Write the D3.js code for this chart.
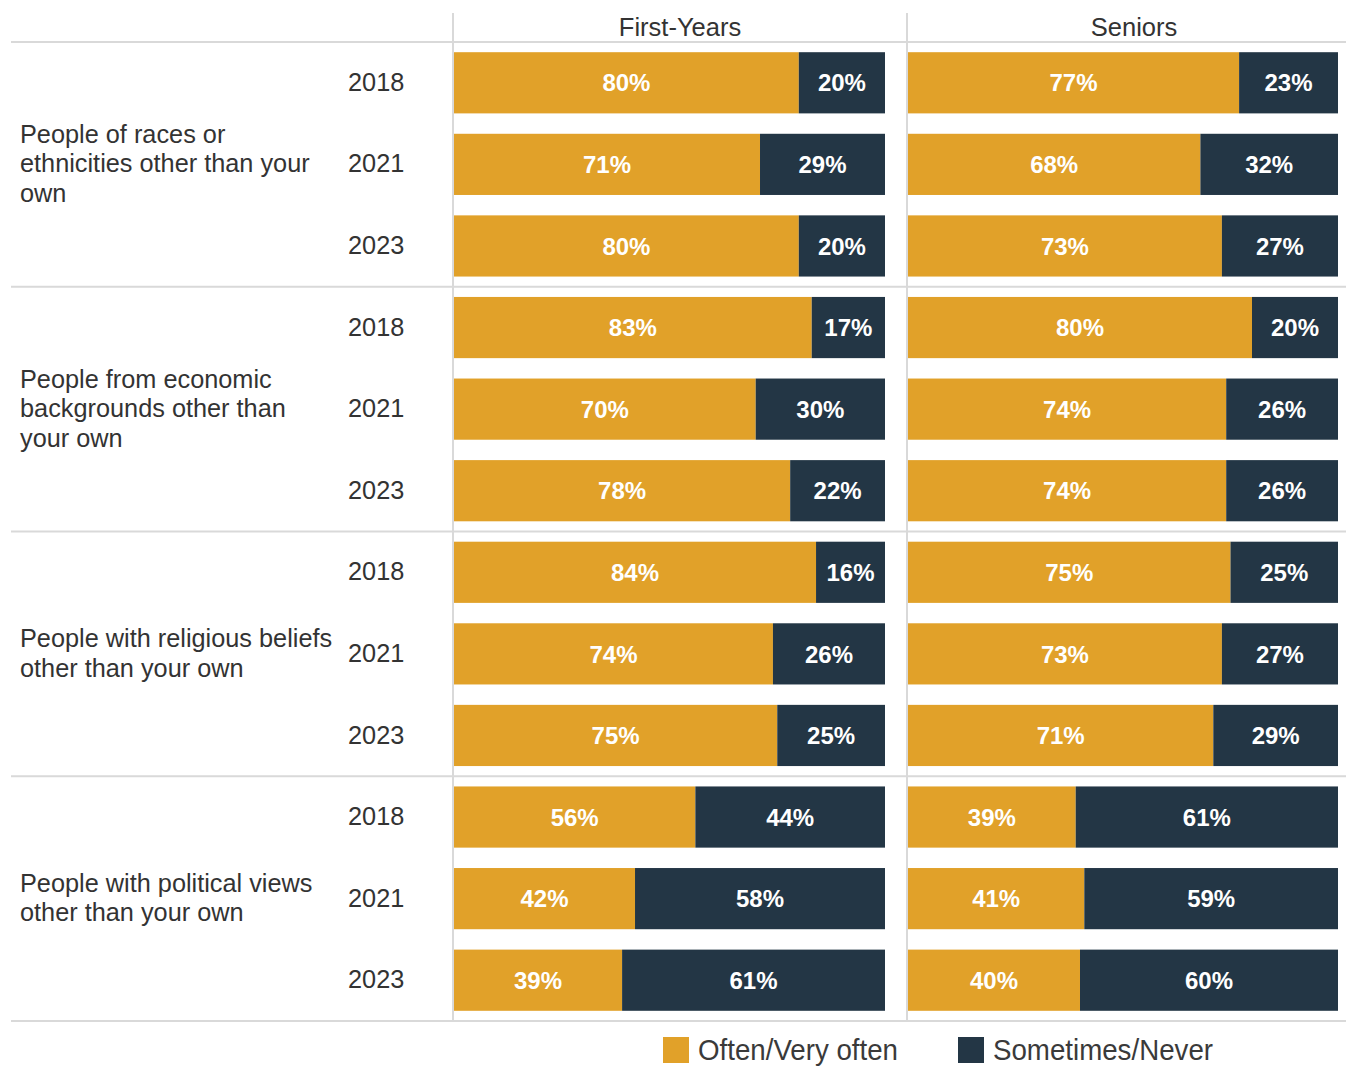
<!DOCTYPE html>
<html>
<head>
<meta charset="utf-8">
<script src="https://cdn.jsdelivr.net/npm/d3@7"></script>
<style>
  html, body { margin: 0; padding: 0; background: #ffffff; }
  svg { display: block; }
  text { font-family: "Liberation Sans", Arial, sans-serif; }
</style>
</head>
<body>
<svg id="chart" width="1346" height="1067"></svg>
<script>
// ---- Data ----
const categories = [
  "People of races or|ethnicities other than your|own",
  "People from economic|backgrounds other than|your own",
  "People with religious beliefs|other than your own",
  "People with political views|other than your own"
];
const years = ["2018", "2021", "2023"];
const panels = ["First-Years", "Seniors"];
const seriesNames = ["Often/Very often", "Sometimes/Never"];

// values per category, in year order
const firstYearsOften     = [[80, 71, 80], [83, 70, 78], [84, 74, 75], [56, 42, 39]];
const firstYearsSometimes = [[20, 29, 20], [17, 30, 22], [16, 26, 25], [44, 58, 61]];
const seniorsOften        = [[77, 68, 73], [80, 74, 74], [75, 73, 71], [39, 41, 40]];
const seniorsSometimes    = [[23, 32, 27], [20, 26, 26], [25, 27, 29], [61, 59, 60]];

const colors = ["#E1A129", "#233645"];

// ---- Build rows ----
const rows = [];
categories.forEach((c, ci) => {
  years.forEach((y, yi) => {
    rows.push({
      key: ci + "-" + y, ci, year: y,
      values: [
        [firstYearsOften[ci][yi], firstYearsSometimes[ci][yi]],
        [seniorsOften[ci][yi], seniorsSometimes[ci][yi]]
      ]
    });
  });
});

const svg = d3.select("#chart");
const gridColor = "#d9d9d9";
const textColor = "#333333";

const plotTop = 42, plotBottom = 1021;
const yRow = d3.scaleBand().domain(rows.map(r => r.key)).range([plotTop, plotBottom])
  .paddingInner(0.25).paddingOuter(0.125);
const yGroup = d3.scaleBand().domain(d3.range(categories.length)).range([plotTop, plotBottom]);

const panelX = d3.scaleBand().domain(panels).range([453, 1361]);
const barRange = { "First-Years": [454, 885], "Seniors": [908, 1338] };
const xScales = panels.map(p => d3.scaleLinear().domain([0, 100]).range(barRange[p]));

// grid lines
const grid = svg.append("g");
yGroup.domain().forEach(i => {
  grid.append("line").attr("x1", 11).attr("x2", 1346)
    .attr("y1", yGroup(i)).attr("y2", yGroup(i))
    .attr("stroke", gridColor).attr("stroke-width", 2);
});
grid.append("line").attr("x1", 11).attr("x2", 1346)
  .attr("y1", plotBottom).attr("y2", plotBottom)
  .attr("stroke", gridColor).attr("stroke-width", 2);
panels.forEach(p => {
  grid.append("line").attr("x1", panelX(p)).attr("x2", panelX(p))
    .attr("y1", 13).attr("y2", plotBottom)
    .attr("stroke", gridColor).attr("stroke-width", 2);
});

// panel headers
svg.append("g").selectAll("text").data(panels).join("text")
  .attr("x", p => panelX(p) + panelX.bandwidth() / 2)
  .attr("y", 27).attr("dy", "0.35em")
  .attr("text-anchor", "middle")
  .attr("font-size", 25.5).attr("fill", textColor)
  .text(p => p);

// bars
panels.forEach((p, pi) => {
  const x = xScales[pi];
  const g = svg.append("g");
  rows.forEach(r => {
    let start = 0;
    r.values[pi].forEach((v, si) => {
      const x0 = x(start), x1 = x(start + v);
      g.append("rect")
        .attr("x", x0).attr("y", yRow(r.key))
        .attr("width", x1 - x0).attr("height", yRow.bandwidth())
        .attr("fill", colors[si]);
      g.append("text")
        .attr("x", (x0 + x1) / 2)
        .attr("y", yRow(r.key) + yRow.bandwidth() / 2)
        .attr("dy", "0.36em")
        .attr("text-anchor", "middle")
        .attr("font-size", 24).attr("font-weight", "bold")
        .attr("fill", "#ffffff")
        .text(v + "%");
      start += v;
    });
  });
});

// year labels
svg.append("g").selectAll("text").data(rows).join("text")
  .attr("x", 348)
  .attr("y", r => yRow(r.key) + yRow.bandwidth() / 2 - 1)
  .attr("dy", "0.36em")
  .attr("font-size", 25.3).attr("fill", textColor)
  .text(r => r.year);

// category labels
const lineH = 29.5;
categories.forEach((c, ci) => {
  const lines = c.split("|");
  const cy = yGroup(ci) + yGroup.bandwidth() / 2 - 1;
  const t = svg.append("text")
    .attr("x", 20)
    .attr("font-size", 25.3).attr("fill", textColor);
  lines.forEach((ln, li) => {
    t.append("tspan")
      .attr("x", 20)
      .attr("y", cy + (li - (lines.length - 1) / 2) * lineH)
      .attr("dy", "0.36em")
      .text(ln);
  });
});

// legend
const legendX = [663, 958];
const legend = svg.append("g");
seriesNames.forEach((s, i) => {
  legend.append("rect")
    .attr("x", legendX[i]).attr("y", 1037)
    .attr("width", 26).attr("height", 26)
    .attr("fill", colors[i]);
  legend.append("text")
    .attr("x", legendX[i] + 35).attr("y", 1060)
    .attr("font-family", "'Liberation Sans Narrow', 'Arial Narrow', 'Liberation Sans', sans-serif")
    .attr("font-size", 30).attr("fill", "#3a3a3a")
    .attr("textLength", i === 0 ? 200 : 220)
    .attr("lengthAdjust", "spacingAndGlyphs")
    .text(s);
});
</script>
</body>
</html>
